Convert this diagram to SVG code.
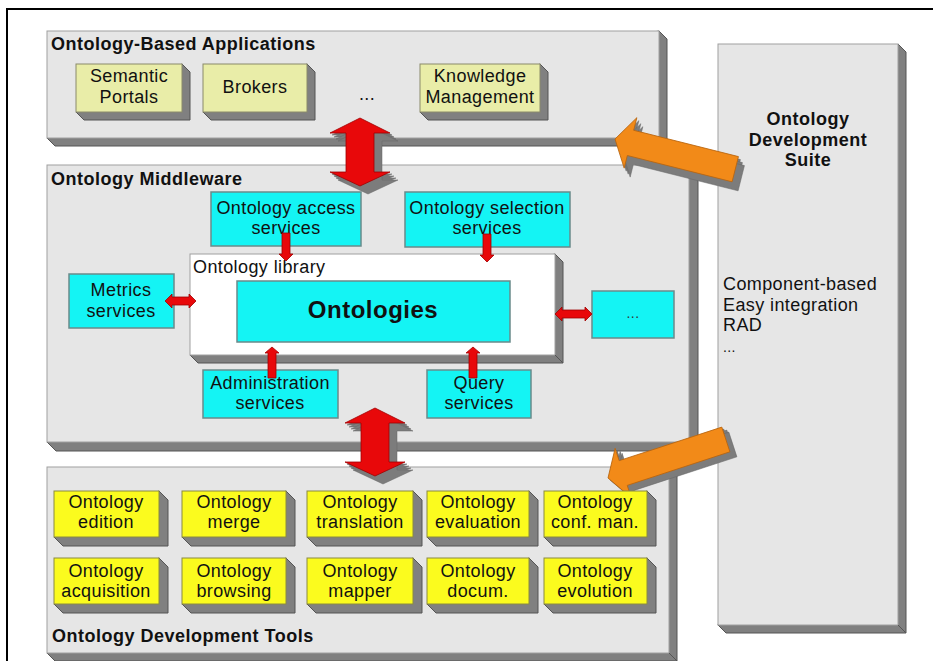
<svg xmlns="http://www.w3.org/2000/svg" xmlns:xlink="http://www.w3.org/1999/xlink" width="933" height="661" viewBox="0 0 933 661">
<style>
.panel{fill:#e6e6e6;stroke:#a0a0a0;stroke-width:1}
.shade{fill:#808080;stroke:#555;stroke-width:1;stroke-linejoin:round}
.edge{stroke:#555;stroke-width:1}
.app{fill:#e9eda8;stroke:#8a8a6a;stroke-width:1}
.tool{fill:#fbfb1e;stroke:#8a8a40;stroke-width:1}
.svc{fill:#14f4f4;stroke:#6a8a8a;stroke-width:1.5}
.lib{fill:#ffffff;stroke:#a0a0a0;stroke-width:1}
.t{font-family:"Liberation Sans",Arial,sans-serif;font-size:18px;fill:#111;letter-spacing:0.4px}
.c{text-anchor:middle}
.b{font-weight:bold;letter-spacing:0.5px}
.red{fill:#e8080a;stroke:#a00000;stroke-width:0.8}
.org{fill:#f28a18;stroke:#b86510;stroke-width:0.8}
.gs{fill:#7c7c7c;stroke:#666;stroke-width:0.5}
</style>
<defs>
<polygon id="bigA" points="0,0 30,15 14,15 14,54 30,54 0,68 -30,54 -14,54 -14,15 -30,15"/>
<polygon id="orgA" points="0,0 16,-26 16,-13 124,-13 124,13 16,13 16,26"/>
<polygon id="dn" points="-4,0 4,0 4,21 7,21 0,28 -7,21 -4,21"/>
<polygon id="up" points="0,0 7,6 4,6 4,31 -4,31 -4,6 -7,6"/>
</defs>
<rect width="933" height="661" fill="#ffffff"/>
<path d="M7,661 V9 H933" fill="none" stroke="#000" stroke-width="2"/>

<g id="apps-panel">
<polygon class="shade" points="659,31 667,39 667,146 55,146 47,138"/>
<rect class="panel" x="47" y="31" width="612" height="107"/>
<line class="edge" x1="659" y1="138" x2="667" y2="146"/>
<text class="t b" x="51" y="50">Ontology-Based Applications</text>
</g>

<g id="middleware-panel">
<polygon class="shade" points="689,165 698,174 698,451 56,451 47,442"/>
<rect class="panel" x="47" y="165" width="642" height="277"/>
<line class="edge" x1="689" y1="442" x2="698" y2="451"/>
<text class="t b" x="51" y="185">Ontology Middleware</text>
</g>

<g id="tools-panel">
<polygon class="shade" points="669,467 677,475 677,661 55,661 47,653"/>
<rect class="panel" x="47" y="467" width="622" height="186"/>
<line class="edge" x1="669" y1="653" x2="677" y2="661"/>
<text class="t b" x="52" y="642">Ontology Development Tools</text>
</g>

<g id="suite-panel">
<polygon class="shade" points="898,44 906,52 906,633 726,633 718,625"/>
<rect class="panel" x="718" y="44" width="180" height="581"/>
<line class="edge" x1="898" y1="625" x2="906" y2="633"/>
<text class="t b c" x="808" y="125">Ontology</text>
<text class="t b c" x="808" y="146">Development</text>
<text class="t b c" x="808" y="166">Suite</text>
<text class="t" x="723" y="290">Component-based</text>
<text class="t" x="723" y="311">Easy integration</text>
<text class="t" x="723" y="331">RAD</text>
<text class="t" x="723" y="352" style="font-size:14px">...</text>
</g>

<g id="semantic-portals">
<polygon class="shade" points="182,64 190,72 190,120 84,120 76,112"/>
<rect class="app" x="76" y="64" width="106" height="48"/>
<text class="t c" x="129" y="82">Semantic</text>
<text class="t c" x="129" y="103">Portals</text>
</g>
<g id="brokers">
<polygon class="shade" points="307,64 315,72 315,120 211,120 203,112"/>
<rect class="app" x="203" y="64" width="104" height="48"/>
<text class="t c" x="255" y="93">Brokers</text>
</g>
<g id="apps-more">
<text class="t c" x="367" y="100">...</text>
</g>
<g id="knowledge-management">
<polygon class="shade" points="540,64 548,72 548,120 428,120 420,112"/>
<rect class="app" x="420" y="64" width="120" height="48"/>
<text class="t c" x="480" y="82">Knowledge</text>
<text class="t c" x="480" y="103">Management</text>
</g>

<g id="access-services">
<rect class="svc" x="211" y="192" width="150" height="54"/>
<text class="t c" x="286" y="214">Ontology access</text>
<text class="t c" x="286" y="234">services</text>
</g>
<g id="selection-services">
<rect class="svc" x="405" y="192" width="165" height="55"/>
<text class="t c" x="487" y="214">Ontology selection</text>
<text class="t c" x="487" y="234">services</text>
</g>
<g id="ontology-library">
<polygon class="shade" points="555,254 563,262 563,363 198,363 190,355"/>
<rect class="lib" x="190" y="254" width="365" height="101"/>
<line class="edge" x1="555" y1="355" x2="563" y2="363"/>
<text class="t" x="193" y="273">Ontology library</text>
</g>
<g id="ontologies">
<rect class="svc" x="237" y="281" width="273" height="61"/>
<text class="t b c" x="373" y="318" style="font-size:24px">Ontologies</text>
</g>
<g id="metrics-services">
<rect class="svc" x="69" y="274" width="105" height="54"/>
<text class="t c" x="121" y="296">Metrics</text>
<text class="t c" x="121" y="317">services</text>
</g>
<g id="more-services">
<rect class="svc" x="592" y="291" width="82" height="47"/>
<text class="t c" x="633" y="318" style="font-size:14px;fill:#333">...</text>
</g>
<g id="administration-services">
<rect class="svc" x="203" y="370" width="135" height="48"/>
<text class="t c" x="270" y="389">Administration</text>
<text class="t c" x="270" y="409">services</text>
</g>
<g id="query-services">
<rect class="svc" x="427" y="370" width="104" height="48"/>
<text class="t c" x="479" y="389">Query</text>
<text class="t c" x="479" y="409">services</text>
</g>

<g id="connectors">
<!-- big red double arrows with extrusion -->
<use xlink:href="#bigA" class="gs" transform="translate(362,120)"/>
<use xlink:href="#bigA" class="gs" transform="translate(364,122)"/>
<use xlink:href="#bigA" class="gs" transform="translate(366,124)"/>
<use xlink:href="#bigA" class="gs" transform="translate(368,126)"/>
<use xlink:href="#bigA" class="red" transform="translate(360,118)"/>
<use xlink:href="#bigA" class="gs" transform="translate(377,410)"/>
<use xlink:href="#bigA" class="gs" transform="translate(379,412)"/>
<use xlink:href="#bigA" class="gs" transform="translate(381,414)"/>
<use xlink:href="#bigA" class="gs" transform="translate(383,416)"/>
<use xlink:href="#bigA" class="red" transform="translate(375,408)"/>
<!-- small red arrows -->
<use xlink:href="#dn" class="red" transform="translate(286,233)"/>
<use xlink:href="#dn" class="red" transform="translate(487,234)"/>
<use xlink:href="#up" class="red" transform="translate(272,347)"/>
<use xlink:href="#up" class="red" transform="translate(473,347)"/>
<polygon class="red" points="165,301 172,294 172,297 189,297 189,294 196,301 189,308 189,305 172,305 172,308"/>
<polygon class="red" points="555,314 562,307 562,310 585,310 585,307 592,314 585,321 585,318 562,318 562,321"/>
<!-- orange arrows with extrusion -->
<use xlink:href="#orgA" class="gs" transform="translate(617,142) rotate(14.1)"/>
<use xlink:href="#orgA" class="gs" transform="translate(619,145) rotate(14.1)"/>
<use xlink:href="#orgA" class="gs" transform="translate(621,148) rotate(14.1)"/>
<use xlink:href="#orgA" class="org" transform="translate(615,139) rotate(14.1)"/>
<use xlink:href="#orgA" class="gs" transform="translate(610,480) rotate(-18.1)"/>
<use xlink:href="#orgA" class="gs" transform="translate(613,481) rotate(-18.1)"/>
<use xlink:href="#orgA" class="gs" transform="translate(615,483) rotate(-18.1)"/>
<use xlink:href="#orgA" class="org" transform="translate(608,478) rotate(-18.1)"/>
</g>

<g id="tool-edition">
<polygon class="shade" points="159,491 168,500 168,546 63,546 54,537"/>
<rect class="tool" x="54" y="491" width="105" height="46"/>
<text class="t c" x="106" y="508">Ontology</text><text class="t c" x="106" y="528">edition</text>
</g>
<g id="tool-merge">
<polygon class="shade" points="286,491 295,500 295,546 191,546 182,537"/>
<rect class="tool" x="182" y="491" width="104" height="46"/>
<text class="t c" x="234" y="508">Ontology</text><text class="t c" x="234" y="528">merge</text>
</g>
<g id="tool-translation">
<polygon class="shade" points="413,491 422,500 422,546 316,546 307,537"/>
<rect class="tool" x="307" y="491" width="106" height="46"/>
<text class="t c" x="360" y="508">Ontology</text><text class="t c" x="360" y="528">translation</text>
</g>
<g id="tool-evaluation">
<polygon class="shade" points="529,491 538,500 538,546 436,546 427,537"/>
<rect class="tool" x="427" y="491" width="102" height="46"/>
<text class="t c" x="478" y="508">Ontology</text><text class="t c" x="478" y="528">evaluation</text>
</g>
<g id="tool-conf-man">
<polygon class="shade" points="647,491 656,500 656,546 553,546 544,537"/>
<rect class="tool" x="544" y="491" width="103" height="46"/>
<text class="t c" x="595" y="508">Ontology</text><text class="t c" x="595" y="528">conf. man.</text>
</g>
<g id="tool-acquisition">
<polygon class="shade" points="159,558 168,567 168,613 63,613 54,604"/>
<rect class="tool" x="54" y="558" width="105" height="46"/>
<text class="t c" x="106" y="577">Ontology</text><text class="t c" x="106" y="597">acquisition</text>
</g>
<g id="tool-browsing">
<polygon class="shade" points="286,558 295,567 295,613 191,613 182,604"/>
<rect class="tool" x="182" y="558" width="104" height="46"/>
<text class="t c" x="234" y="577">Ontology</text><text class="t c" x="234" y="597">browsing</text>
</g>
<g id="tool-mapper">
<polygon class="shade" points="413,558 422,567 422,613 316,613 307,604"/>
<rect class="tool" x="307" y="558" width="106" height="46"/>
<text class="t c" x="360" y="577">Ontology</text><text class="t c" x="360" y="597">mapper</text>
</g>
<g id="tool-docum">
<polygon class="shade" points="529,558 538,567 538,613 436,613 427,604"/>
<rect class="tool" x="427" y="558" width="102" height="46"/>
<text class="t c" x="478" y="577">Ontology</text><text class="t c" x="478" y="597">docum.</text>
</g>
<g id="tool-evolution">
<polygon class="shade" points="647,558 656,567 656,613 553,613 544,604"/>
<rect class="tool" x="544" y="558" width="103" height="46"/>
<text class="t c" x="595" y="577">Ontology</text><text class="t c" x="595" y="597">evolution</text>
</g>
</svg>
